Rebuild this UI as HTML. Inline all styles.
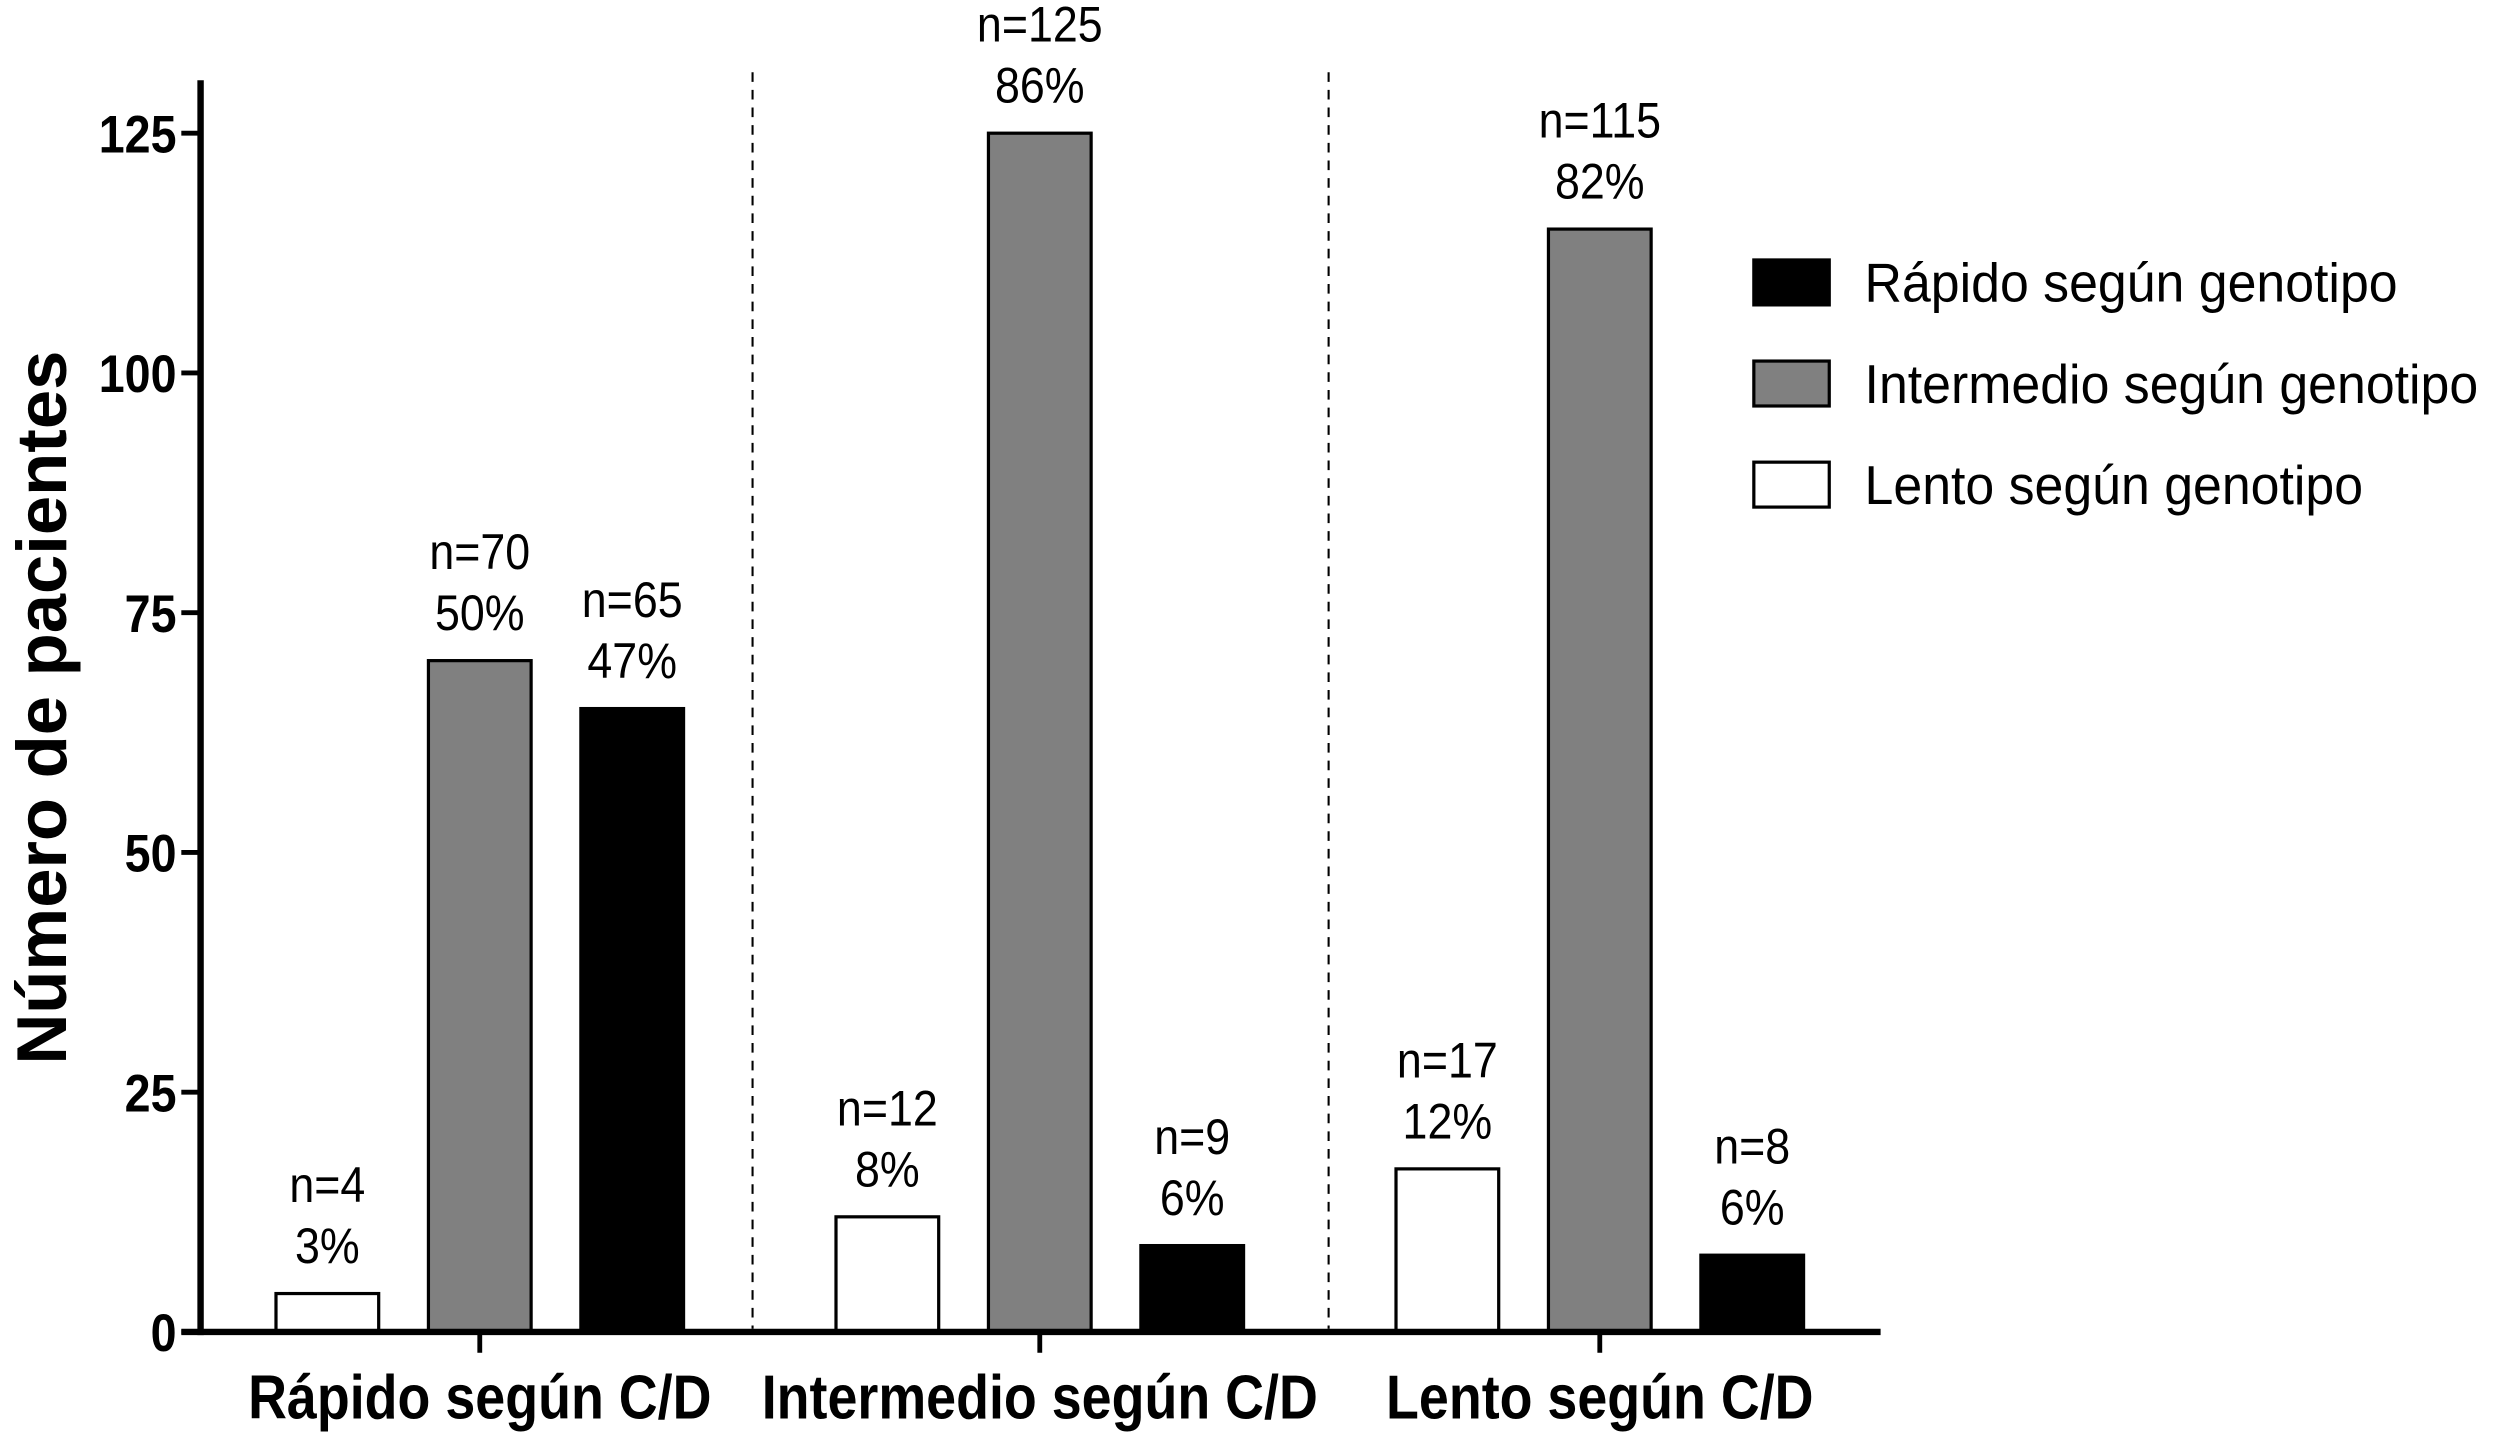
<!DOCTYPE html>
<html><head><meta charset="utf-8"><style>
html,body{margin:0;padding:0;background:#fff;}
svg{display:block;}
text{font-family:"Liberation Sans",Arial,sans-serif;}
</style></head><body>
<svg id="chart" width="2508" height="1433" viewBox="0 0 1563 893" preserveAspectRatio="none" xmlns="http://www.w3.org/2000/svg">
<g id="plot"></g>
</svg>
<script>
const categories = ["Rápido según C/D","Intermedio según C/D","Lento según C/D"];
const seriesNames = ["Lento según genotipo","Intermedio según genotipo","Rápido según genotipo"];
const lentoValues = [4,12,17];
const intermedioValues = [70,125,115];
const rapidoValues = [65,9,8];
const lentoPct = ["3%","8%","12%"];
const intermedioPct = ["50%","86%","82%"];
const rapidoPct = ["47%","6%","6%"];
const yTicks = [0,25,50,75,100,125];

const NS="http://www.w3.org/2000/svg";
const g=document.getElementById('plot');
const y0=830, yTop=83, yMax=125;
const yScale=v=>y0-(y0-yTop)*v/yMax;
const catCenter=i=>299+i*349;
const barW=64, barOff=[-95,0,95];
function el(t,a,txt){const e=document.createElementNS(NS,t);for(const k in a)e.setAttribute(k,a[k]);if(txt!==undefined)e.textContent=txt;g.appendChild(e);return e;}

[469,828].forEach(x=>{
  const l=el('line',{x1:x,y1:45,x2:x,y2:828,stroke:'#000','stroke-width':1.3,'stroke-dasharray':'6,5'});
  
  
});

const series=[
 {vals:lentoValues,pct:lentoPct,fill:'#fff',name:'lento'},
 {vals:intermedioValues,pct:intermedioPct,fill:'#808080',name:'intermedio'},
 {vals:rapidoValues,pct:rapidoPct,fill:'#000',name:'rapido'}];
series.forEach((s,si)=>{
  s.vals.forEach((v,ci)=>{
    const cx=catCenter(ci)+barOff[si];
    const r=el('rect',{x:cx-barW/2,y:yScale(v),width:barW,height:y0-yScale(v),fill:s.fill,stroke:'#000','stroke-width':2});
    
    
    const tf=`translate(${cx},0) scale(0.9,1) translate(${-cx},0)`;
    const t1=el('text',{x:cx,y:yScale(v)-57,'text-anchor':'middle','font-size':31,transform:tf},'n='+v);
    
    
    const t2=el('text',{x:cx,y:yScale(v)-19,'text-anchor':'middle','font-size':31,transform:tf},s.pct[ci]);
    
    
  });
});

const ya=el('line',{x1:125,y1:50,x2:125,y2:832,stroke:'#000','stroke-width':4});


const xa=el('line',{x1:113,y1:830,x2:1172,y2:830,stroke:'#000','stroke-width':4});


yTicks.forEach(v=>{
  const y=yScale(v);
  const tk=el('line',{x1:113,y1:y,x2:125,y2:y,stroke:'#000','stroke-width':3});
  
  
  const tl=el('text',{x:110,y:y+12,'text-anchor':'end','font-size':33,'font-weight':'bold',transform:`translate(110,0) scale(0.88,1) translate(-110,0)`},String(v));
  
  
});
categories.forEach((c,i)=>{
  const x=catCenter(i);
  const tk=el('line',{x1:x,y1:830,x2:x,y2:843,stroke:'#000','stroke-width':3});
  
  
  const tl=el('text',{x:x,y:884,'text-anchor':'middle','font-size':39,'font-weight':'bold',transform:`translate(${x},0) scale(0.86,1) translate(${-x},0)`},c);
  
  
});
const yt=el('text',{x:0,y:0,'text-anchor':'middle','font-size':44,'font-weight':'bold',transform:'translate(41,441) rotate(-90)'},'Número de pacientes');



const legFill=['#000','#808080','#fff'];
const legNames=[seriesNames[2],seriesNames[1],seriesNames[0]];
legNames.forEach((n,i)=>{
  const y=162+i*63;
  const b=el('rect',{x:1093,y:y,width:47,height:28,fill:legFill[i],stroke:'#000','stroke-width':2});
  
  
  const t=el('text',{x:1162,y:y+26,'font-size':34,transform:`translate(1162,0) scale(0.95,1) translate(-1162,0)`},n);
  
  
});
</script>
</body></html>
